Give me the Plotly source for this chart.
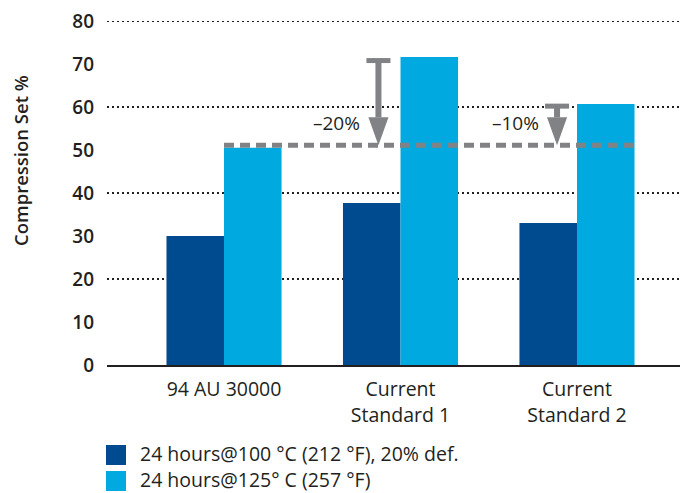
import plotly.graph_objects as go

categories = ["94 AU 30000", "Current<br>Standard 1", "Current<br>Standard 2"]
series_names = ["24 hours@100 °C (212 °F), 20% def.", "24 hours@125° C (257 °F)"]
values_100C = [30.0, 37.7, 33.0]
values_125C = [50.5, 71.6, 60.7]
reference_level = 51.1
arrow_tops = [70.8, 60.2]
arrow_labels = ["–20%", "–10%"]
y_ticks = [0, 10, 20, 30, 40, 50, 60, 70, 80]
grid_levels = [20, 40, 60, 80]

DARK = "#004a8f"
LIGHT = "#00a9e0"
GRAY = "#808285"
TEXT = "#231f20"
FONT = "Open Sans"

xs = list(range(len(categories)))
fig = go.Figure()
fig.add_bar(x=xs, y=values_100C, name=series_names[0], marker_color=DARK,
            marker_line_width=0, showlegend=False)
fig.add_bar(x=xs, y=values_125C, name=series_names[1], marker_color=LIGHT,
            marker_line_width=0, showlegend=False)

shapes = []
# dotted gridlines
for g in grid_levels:
    shapes.append(dict(type="line", xref="paper", yref="y", x0=0, x1=1, y0=g, y1=g,
                       line=dict(color=TEXT, width=2, dash="2px,3px"), layer="below"))
# dashed reference line
bw = 0.326
shapes.append(dict(type="line", xref="x", yref="y", x0=0, x1=2 + bw, y0=reference_level,
                   y1=reference_level, line=dict(color=GRAY, width=5, dash="10px,6px"),
                   layer="above"))
# arrows
arrow_x = [1 - 0.125, 2 - 0.113]
tw = 0.068   # T-bar half width
hw = 0.057   # head half width
hh = 6.5     # head height
for ax, top in zip(arrow_x, arrow_tops):
    shapes.append(dict(type="line", xref="x", yref="y", x0=ax - tw, x1=ax + tw, y0=top, y1=top,
                       line=dict(color=GRAY, width=5)))
    shapes.append(dict(type="line", xref="x", yref="y", x0=ax, x1=ax, y0=top,
                       y1=reference_level + hh, line=dict(color=GRAY, width=6)))
    shapes.append(dict(type="path", xref="x", yref="y",
                       path=f"M {ax - hw} {reference_level + hh} L {ax + hw} {reference_level + hh} L {ax} {reference_level} Z",
                       fillcolor=GRAY, line=dict(width=0)))

annotations = []
for ax, lab in zip(arrow_x, arrow_labels):
    annotations.append(dict(x=ax - 0.235, y=reference_level + 5.2, xref="x", yref="y", text=lab,
                            showarrow=False, font=dict(family=FONT, size=19, color=TEXT)))

# y-axis title
annotations.append(dict(x=(21 - 107) / 581, y=(365 - 161) / 344, xref="paper", yref="paper",
                        xanchor="center", yanchor="middle",
                        text="Compression Set %", textangle=-90, showarrow=False,
                        font=dict(family=FONT, size=18.5, color=TEXT, weight=600)))

# manual legend
leg = [(445, 465, DARK, series_names[0]), (471, 491, LIGHT, series_names[1])]
H = 344.0
for y0px, y1px, col, name in leg:
    shapes.append(dict(type="rect", xref="paper", yref="paper",
                       x0=(106 - 107) / 581, x1=(126 - 107) / 581,
                       y0=(365 - y1px) / H, y1=(365 - y0px) / H,
                       fillcolor=col, line=dict(width=0)))
    annotations.append(dict(x=(138 - 107) / 581, y=(365 - (y0px + y1px) / 2 + 1.5) / H,
                            xref="paper", yref="paper", xanchor="left", yanchor="middle",
                            text=name, showarrow=False,
                            font=dict(family=FONT, size=19.5, color=TEXT)))

# page body has an 8px margin: shrink the figure so the plot lands at the reference pixels
fig.update_layout(
    width=680, height=485,
    margin=dict(l=99, r=0, t=13, b=128),
    paper_bgcolor="white", plot_bgcolor="white",
    barmode="group", bargap=0.348, bargroupgap=0,
    font=dict(family=FONT, color=TEXT),
    shapes=shapes, annotations=annotations,
    showlegend=False,
    xaxis=dict(range=[-0.663, 2.629], tickvals=xs, ticktext=categories,
               showgrid=False, zeroline=False, showline=True, linecolor=TEXT, linewidth=2,
               layer="below traces", ticks="", ticklabelstandoff=6,
               tickfont=dict(family=FONT, size=19.5, color=TEXT), fixedrange=True),
    yaxis=dict(range=[0, 80], tickvals=y_ticks, showgrid=False, zeroline=False,
               showline=False, ticks="", ticklabelstandoff=12, ticklabeloverflow="allow",
               tickfont=dict(family=FONT, size=19, color=TEXT, weight=600), fixedrange=True),
)

fig.write_html("out.html", config={"displayModeBar": False})
